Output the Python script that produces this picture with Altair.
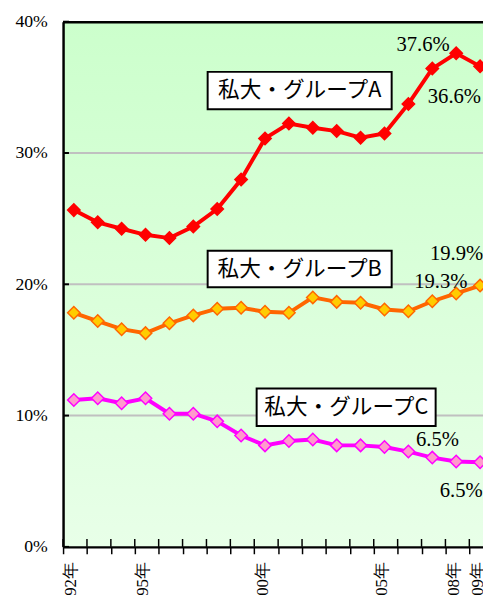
import json
import altair as alt
import pandas as pd

# ---------------- data ----------------
years = list(range(1992, 2010))
series_names = ["私大・グループA", "私大・グループB", "私大・グループC"]
group_a = [25.65, 24.72, 24.23, 23.77, 23.52, 24.4, 25.73, 27.98, 31.11, 32.24,
           31.92, 31.67, 31.17, 31.49, 33.74, 36.43, 37.6, 36.6]
group_b = [17.83, 17.2, 16.58, 16.28, 17.03, 17.63, 18.14, 18.21, 17.91, 17.83,
           19.0, 18.66, 18.59, 18.08, 17.95, 18.71, 19.3, 19.9]
group_c = [11.19, 11.32, 10.94, 11.32, 10.14, 10.14, 9.56, 8.48, 7.73, 8.06,
           8.18, 7.73, 7.73, 7.61, 7.26, 6.8, 6.5, 6.45]
x_tick_labels = ["92年", "", "", "95年", "", "", "", "", "00年", "", "", "", "",
                 "05年", "", "", "08年", "09年"]
y_ticks = [0, 10, 20, 30, 40]
grid_values = [10, 20, 30]

# label boxes (data coordinates)
box_x1 = [5.6, 5.6, 7.65]
box_x2 = [13.3, 13.3, 15.14]
box_top = [36.18, 22.55, 12.06]
box_bottom = [33.33, 19.78, 9.21]
box_cx = [9.45, 9.45, 11.4]
box_cy = [34.76, 21.17, 10.64]

# value annotations
ann_text = ["37.6%", "36.6%", "19.9%", "19.3%", "6.5%", "6.5%"]
ann_x = [13.5, 14.81, 14.9, 14.24, 14.32, 15.31]
ann_y = [37.78, 33.78, 21.87, 19.70, 7.72, 3.82]

line_colors = ["#ff0000", "#ff6600", "#ff00ff"]
marker_fills = ["#ff0000", "#ffcc00", "#ff99cc"]

# ---------------- tables ----------------
rows = []
for name, vals in zip(series_names, [group_a, group_b, group_c]):
    for i, v in enumerate(vals):
        rows.append({"idx": i, "value": v, "series": name, "year": years[i]})
df = pd.DataFrame(rows)

STEP = 24.3
W, H = 427, 534
X0 = -0.45
X1 = X0 + W / STEP
tick_vals = [k + X0 for k in range(len(years))]
ticks_df = pd.DataFrame({"idx": tick_vals})
grid_df = pd.DataFrame({"value": grid_values})
yt_df = pd.DataFrame({"value": y_ticks})
box_df = pd.DataFrame({"x1": box_x1, "x2": box_x2, "y1": box_top, "y2": box_bottom,
                       "cx": box_cx, "cy": box_cy, "label": series_names})
ann_df = pd.DataFrame({"idx": ann_x, "value": ann_y, "label": ann_text})
one = pd.DataFrame({"a": [0]})

xscale = alt.Scale(domain=[X0, X1], nice=False, zero=False)
yscale = alt.Scale(domain=[0, 40], nice=False, zero=False)

label_expr = json.dumps(x_tick_labels, ensure_ascii=False) + "[round(datum.value + 0.45)]"

x_axis = alt.Axis(values=tick_vals, labelExpr=label_expr, title=None, grid=False,
                  domainColor="black", domainWidth=2.5, tickColor="black",
                  tickWidth=1.5, tickSize=7, labelAngle=270, labelAlign="right",
                  labelBaseline="top", labelPadding=8, labelFont="Liberation Serif",
                  labelFontSize=17, labelColor="black", labelOverlap=False,
                  labelFlush=False, labelBound=False, zindex=1)
y_axis = alt.Axis(values=y_ticks, labelExpr="datum.value + '%'", title=None,
                  grid=False, ticks=False, domainColor="black", domainWidth=2.5,
                  labelPadding=16, labelFont="Liberation Serif", labelFontSize=18,
                  labelColor="black", zindex=1)


def X(field):
    return alt.X(field, scale=xscale, axis=x_axis)


def Y(field):
    return alt.Y(field, scale=yscale, axis=y_axis)


background = alt.Chart(one).mark_rect(
    color=alt.Gradient(gradient="linear",
                       stops=[alt.GradientStop(color="#ccffcc", offset=0),
                              alt.GradientStop(color="#e8ffe8", offset=1)],
                       x1=0, x2=0, y1=0, y2=1)
).encode(x=alt.value(0), x2=alt.value(W), y=alt.value(0), y2=alt.value(H))

grid = alt.Chart(grid_df).mark_rule(color="#c0c0c0", strokeWidth=2).encode(
    y=Y("value:Q"), x=alt.value(0), x2=alt.value(W))

ytick = alt.Chart(yt_df).mark_rule(color="black", strokeWidth=2).encode(
    y=Y("value:Q"), x=alt.value(0), x2=alt.value(6))

xtick = alt.Chart(ticks_df).mark_rule(color="black", strokeWidth=1.5).encode(
    x=X("idx:Q"), y=alt.value(H - 8), y2=alt.value(H))

top_border = alt.Chart(one).mark_rule(color="black", strokeWidth=2.5).encode(
    x=alt.value(0), x2=alt.value(W), y=alt.value(0.5))

lines = alt.Chart(df).mark_line(strokeWidth=4).encode(
    x=X("idx:Q"), y=Y("value:Q"),
    color=alt.Color("series:N", scale=alt.Scale(domain=series_names, range=line_colors),
                    legend=None),
    detail="series:N")

points = alt.Chart(df).mark_point(shape="diamond", size=160, filled=False,
                                  strokeWidth=1.5, opacity=1).encode(
    x=X("idx:Q"), y=Y("value:Q"),
    fill=alt.Fill("series:N", scale=alt.Scale(domain=series_names, range=marker_fills),
                  legend=None),
    stroke=alt.Stroke("series:N", scale=alt.Scale(domain=series_names, range=line_colors),
                      legend=None))

boxes = alt.Chart(box_df).mark_rect(fill="white", stroke="black", strokeWidth=2).encode(
    x=X("x1:Q"), x2="x2:Q", y=Y("y1:Q"), y2="y2:Q")

box_text = alt.Chart(box_df).mark_text(font="Noto Sans CJK JP", fontSize=22,
                                       align="center", baseline="middle",
                                       color="black").encode(
    x=X("cx:Q"), y=Y("cy:Q"), text="label:N")

ann = alt.Chart(ann_df).mark_text(font="Liberation Serif", fontSize=21, align="left",
                                  baseline="alphabetic", color="black",
                                  clip=True).encode(
    x=X("idx:Q"), y=Y("value:Q"), text="label:N")

chart = alt.layer(background, grid, ytick, xtick, lines, points, boxes, box_text, ann,
                  top_border).properties(
    width=W, height=H,
    autosize=alt.AutoSizeParams(type="none"),
    padding={"left": 56, "top": 9, "right": 0, "bottom": 44},
).configure(background="white").configure_view(stroke=None)

chart.save("out.html", embed_options={"renderer": "svg", "actions": False})
